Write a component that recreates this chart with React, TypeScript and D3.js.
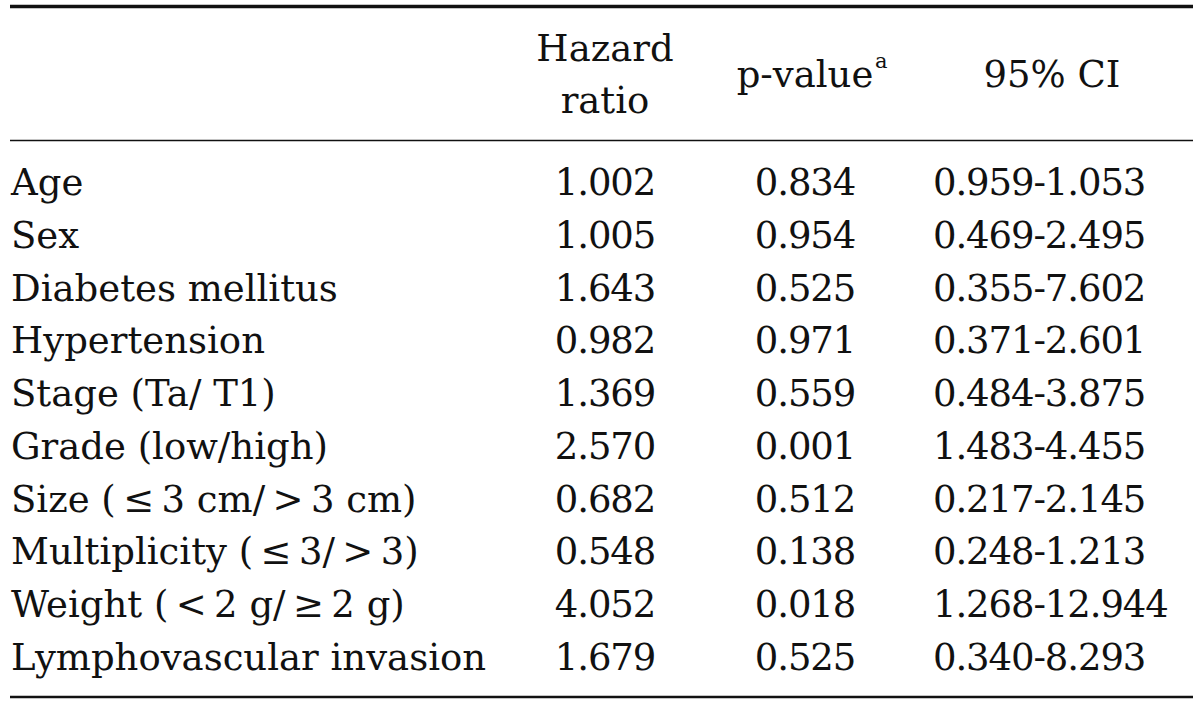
import React from "react";
import * as d3 from "d3";

const variables = [
  "Age",
  "Sex",
  "Diabetes mellitus",
  "Hypertension",
  "Stage (Ta/ T1)",
  "Grade (low/high)",
  "Size (\u2009\u2264\u20093 cm/\u2009>\u20093 cm)",
  "Multiplicity (\u2009\u2264\u20093/\u2009>\u20093)",
  "Weight (\u2009<\u20092 g/\u2009\u2265\u20092 g)",
  "Lymphovascular invasion",
];
const hazardRatios = ["1.002", "1.005", "1.643", "0.982", "1.369", "2.570", "0.682", "0.548", "4.052", "1.679"];
const pValues = ["0.834", "0.954", "0.525", "0.971", "0.559", "0.001", "0.512", "0.138", "0.018", "0.525"];
const ciLow = ["0.959", "0.469", "0.355", "0.371", "0.484", "1.483", "0.217", "0.248", "1.268", "0.340"];
const ciHigh = ["1.053", "2.495", "7.602", "2.601", "3.875", "4.455", "2.145", "1.213", "12.944", "8.293"];
const columns = ["Variable", "Hazard ratio", "p-value", "95% CI"];

const W = 1200;
const H = 707;

export default function App() {
  const y = d3.scalePoint<string>().domain(variables).range([195, 670]);
  const x = d3
    .scaleOrdinal<string, number>()
    .domain(columns)
    .range([11, 605, 805, 933]);
  const font = "'DejaVu Serif', serif";
  const fs = 37;
  const numSpacing = -1.1;
  return (
    <svg width={W} height={H} style={{ position: "absolute", left: 0, top: 0, background: "#fff" }}>
      <rect x={0} y={0} width={W} height={H} fill="#fff" />
      <line x1={10} x2={1193} y1={6.5} y2={6.5} stroke="#111" strokeWidth={3.5} />
      <line x1={10} x2={1193} y1={140.5} y2={140.5} stroke="#111" strokeWidth={1.6} />
      <line x1={10} x2={1193} y1={697} y2={697} stroke="#111" strokeWidth={2.4} />
      <g fontFamily={font} fontSize={fs} fill="#111">
        <text x={x("Hazard ratio")} y={61} textAnchor="middle">Hazard</text>
        <text x={x("Hazard ratio")} y={113} textAnchor="middle">ratio</text>
        <text x={x("p-value")} y={87} textAnchor="middle">p-value</text>
        <text x={x("p-value") + 70} y={68} fontSize={21}>a</text>
        <text x={1052} y={87} textAnchor="middle">95% CI</text>
        {variables.map((v, i) => (
          <g key={v}>
            <text x={x("Variable")} y={y(v)}>{v}</text>
            <text x={x("Hazard ratio")} y={y(v)} textAnchor="middle" letterSpacing={numSpacing}>
              {hazardRatios[i]}
            </text>
            <text x={x("p-value")} y={y(v)} textAnchor="middle" letterSpacing={numSpacing}>
              {pValues[i]}
            </text>
            <text x={x("95% CI")} y={y(v)} letterSpacing={numSpacing}>
              {ciLow[i]}-{ciHigh[i]}
            </text>
          </g>
        ))}
      </g>
    </svg>
  );
}
